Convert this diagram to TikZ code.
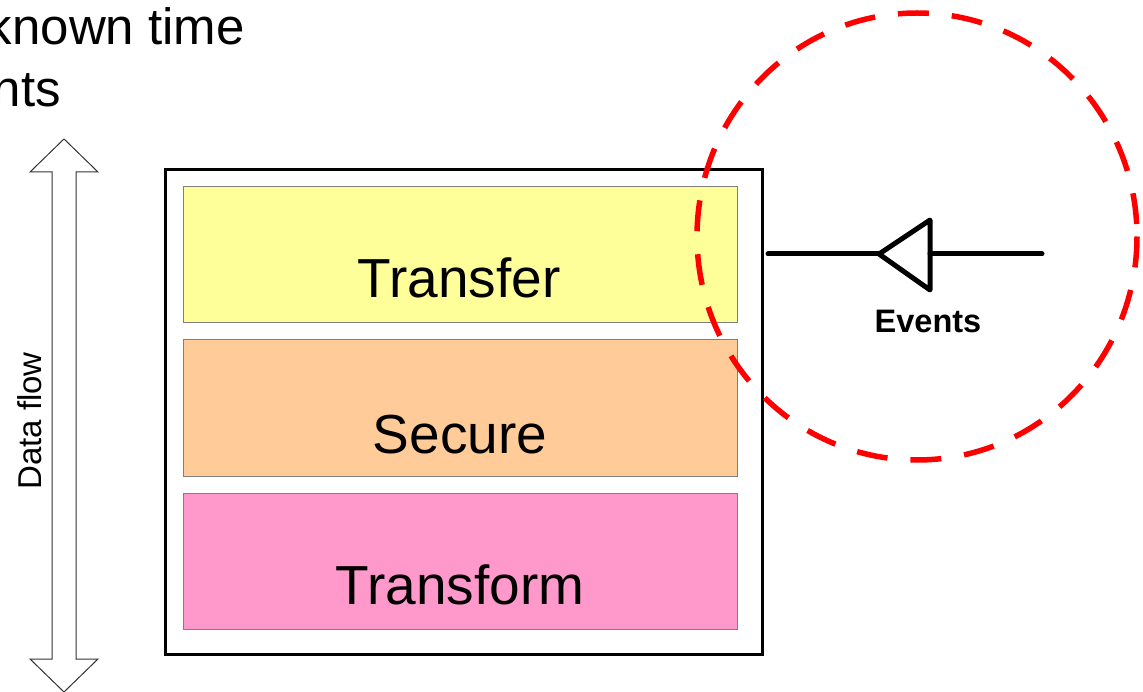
\documentclass[tikz,border=0pt]{standalone}
\usepackage{fontspec}
\setmainfont{Liberation Sans}
\usetikzlibrary{positioning}
\definecolor{transferfill}{HTML}{FFFF99}
\definecolor{securefill}{HTML}{FFCC99}
\definecolor{transformfill}{HTML}{FF99CC}
\definecolor{layerborder}{HTML}{7F7F7F}
\definecolor{flowline}{HTML}{333333}
\tikzset{
  layerbox/.style={draw=layerborder, line width=1pt},
  layertext/.style={inner sep=0pt, anchor=base, font=\fontsize{55}{66}\selectfont},
  eventline/.style={line width=5pt, line cap=round, line join=round},
  titletext/.style={inner sep=0pt, anchor=base east, font=\fontsize{51}{61}\selectfont},
}
\begin{document}
\begin{tikzpicture}[x=1pt, y=-1pt]
\useasboundingbox (0,0) rectangle (1143,692);

% title text (cut off at the left edge, as in the reference)
\node[titletext] (title1) at (245,45) {known time};
\node[titletext] (title2) at (61,107) {nts};

% data flow double arrow
\draw[flowline, line width=1pt, line join=miter, fill=white]
  (64,139) -- (98,172) -- (76,172) -- (76,659) -- (98,659) -- (64,692)
  -- (30,659) -- (52,659) -- (52,172) -- (30,172) -- cycle;
\node[inner sep=0pt, rotate=90, font=\fontsize{33}{40}\selectfont] (flow) at (30,421) {Data flow};

% outer box
\draw[line width=3pt] (165,170) rectangle (762,654);
\coordinate (outerE) at (765,254);

% layers
\draw[layerbox, fill=transferfill] (183,187) rectangle (737,323);
\node[layertext] (transfer) at (459,298) {Transfer};
\draw[layerbox, fill=securefill] (183,340) rectangle (737,476);
\node[layertext] (secure) at (460,453) {Secure};
\draw[layerbox, fill=transformfill] (183,493) rectangle (737,629);
\node[layertext] (transform) at (460,604) {Transform};

% events connector
\coordinate (evin) at (1042,254);
\coordinate (tip) at (879,254);
\coordinate (base) at (930,254);
\draw[eventline] (outerE) ++(3,0) -- (tip);
\draw[eventline] (tip) -- (930,220) -- (930,290) -- cycle;
\draw[eventline] (base) -- (evin);
\node[inner sep=0pt, anchor=base, font=\bfseries\fontsize{32.5}{39}\selectfont] (events) at (928,333) {Events};

% red dashed circle
\draw[red, line width=5.5pt, dash pattern=on 31pt off 23pt] (917,236.5) ellipse [x radius=220, y radius=223.5];
\end{tikzpicture}
\end{document}
